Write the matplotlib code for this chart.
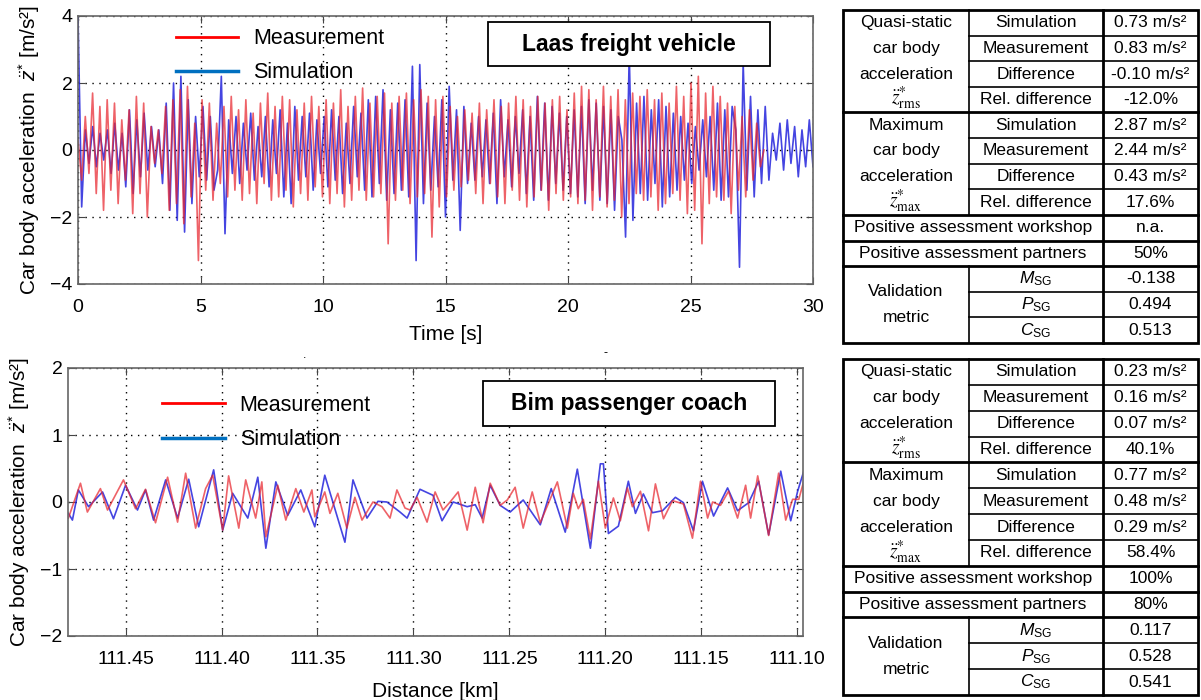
import numpy as np
import matplotlib
matplotlib.use("Agg")
import matplotlib.pyplot as plt
from matplotlib.lines import Line2D
from matplotlib.patches import Rectangle

plt.rcParams['font.family'] = ['Liberation Sans', 'DejaVu Sans']
plt.rcParams['mathtext.fontset'] = 'custom'
plt.rcParams['mathtext.rm'] = 'Liberation Sans'
plt.rcParams['mathtext.it'] = 'Liberation Sans:italic'
plt.rcParams['mathtext.bf'] = 'Liberation Sans:bold'

# ---- Laas freight vehicle: car body acceleration vs time [s] ----
laas_meas = [0.3, -0.9, 1.0, -0.7, 1.7, -1.3, 1.3, -1.8, 1.5, -1.2,
             1.4, -1.6, 0.9, -0.9, 1.2, -1.9, 1.6, -1.3, 1.4, -2.0,
             0.7, -0.4, 0.6, -0.7, 1.3, -1.8, 1.5, -1.6, 1.8, -2.2,
             1.9, -1.4, 0.8, -3.3, 1.5,
             -1.2, 1.4, -1.5, 0.8, -1.0, 1.3, -1.4, 1.6, -1.2, 1.2,
             -1.5, 1.5, -1.3, 1.1, -1.6, 1.4, -1.0, 1.7, -1.5, 1.3,
             -1.4, 1.6, -1.2, 1.5, -1.7, 1.2, -1.3, 1.4, -1.5, 1.6,
             -1.1, 1.3, -1.4,
             1.5, -1.6, 1.4, -1.3, 1.8, -1.7, 1.3, -1.5, 1.6, -1.2,
             1.85, -1.5, 1.4, -1.4, 1.6, -1.3, 1.7, -2.8, 1.4, -1.5,
             1.6, -1.2, 1.7, -1.6, 1.5, -1.4, 1.8, -1.3, 1.6, -2.6,
             1.5, -1.7, 1.6, -1.4,
             1.3, -1.2, 1.0, -1.1, 1.2, -0.9, 1.1, -1.3, 1.4, -1.6,
             1.2, -1.0, 1.5, -1.4, 1.3, -1.6, 1.4, -1.2, 1.6, -1.5,
             1.5, -1.7, 1.3, -1.4, 1.6, -1.2, 1.4, -1.8, 1.5, -1.3,
             1.6, -1.5, 1.2,
             -1.4, 1.7, -1.6, 1.9, -1.5, 1.8, -1.8, 1.5, -1.4, 1.9,
             -1.7, 1.6, -1.5, 1.8, -2.0, 1.5, -1.6, 1.7, -1.3, 1.6,
             -1.5, 1.8, -1.4, 1.5, -1.8, 1.7, -1.6, 1.4, -1.3, 1.9,
             -1.5, 1.6, -1.9,
             2.0, -1.8, 2.2, -2.8, 1.7, -1.6, 1.9, -1.4, 1.6, -1.5,
             1.4, -1.9, 1.3, -1.2, 1.0, -1.4, 1.2, -0.9, 0.8, -0.5, 0.0]

laas_sim = [4.0, -1.7, 0.6, -0.4, 0.7, -0.5, 0.5, -0.3, 0.6, -0.7,
            0.8, -0.6, 0.5, -1.1, 1.2, -1.3, 0.9, -0.8, 1.1, -0.6,
            0.7, -0.5, 0.6, -1.0, 1.4, -1.8, 2.0, -2.1, 2.2, -2.45,
            1.5, -1.6, 1.0, -0.8, 1.3, -0.9, 1.0, -1.2, -0.6, 2.2,
            -2.5, 0.9, -0.7, 1.0, -1.0, 0.8, -0.6, 1.1, -0.9, 0.7,
            -0.8, 1.0, -1.1, 0.9, -0.7, 1.2, -1.4, 0.8, -1.6, 1.3,
            -0.9, 1.0, -0.8, 1.1, -1.2, 0.9, -0.7, 1.0, -1.1, 1.2,
            -0.9, 1.0, -1.3, 0.8, -1.0, 1.3, -0.8, 1.1, -1.2, 1.5,
            -1.4, 1.6, -1.0, 1.8, -1.5, 1.2, -1.3, 1.4, -1.2, 1.5,
            -1.4, 2.5, -3.3, 2.55, -1.6, 1.4, -1.2, 1.0, -1.1, 1.5,
            -2.0, 1.9, -0.9, 1.2, -2.4, 1.3, -1.0, 0.8, -0.9, 1.0,
            -0.8, 0.9, -1.0, 1.1, -1.6, 1.5, -0.8, 0.9, -1.1, 1.0,
            -0.7, 1.2, -1.3, 1.0, -1.5, 1.6, -1.2, 1.4, -1.5, 1.3,
            -1.0, 1.1, -1.2, 1.0, -1.3, 1.2, -1.4, 1.3, -1.6, 1.5,
            -1.2, 1.4, -1.5, 1.3, -1.6, 1.2, -1.8, 1.0, 0.3, -2.6,
            2.87, -2.1, 1.4, -1.3, 1.6, -1.5, 1.2, -1.0, 1.5, -1.7,
            1.3, -1.4, 1.1, -1.2, 1.0, -0.9, 0.8, -1.0, 0.7, -0.6,
            0.9, -0.8, 1.0, -1.2, 1.4, -1.5, 1.2, -1.4, 1.3, 0.6,
            -3.5, 2.6, -1.2, 1.6, -1.4, 1.2, -1.0, 1.3, -0.9, 0.5,
            -0.3, 0.8, -0.6, 0.9, -0.4, 0.7, -0.8, 0.6, -0.5, 0.9,
            -0.5]
laas_t_meas = np.linspace(0, 28, len(laas_meas))
laas_t_sim = np.linspace(0, 30, len(laas_sim))

# ---- Bim passenger coach: car body acceleration vs distance [km] ----
bim_d_meas = [111.4798, 111.4735, 111.4699, 111.4631, 111.4594, 111.4511, 111.4448,
              111.4396, 111.4344, 111.4281, 111.4229, 111.4187, 111.4135, 111.4083,
              111.4046, 111.3994, 111.3963, 111.3910, 111.3874, 111.3822, 111.3790,
              111.3769, 111.3707, 111.3665, 111.3613, 111.3571, 111.3529, 111.3514,
              111.3462, 111.3435, 111.3394, 111.3347, 111.3305, 111.3268, 111.3211,
              111.3164, 111.3122, 111.3086, 111.3044, 111.3018, 111.2981, 111.2929,
              111.2887, 111.2846, 111.2809, 111.2767, 111.2720, 111.2678, 111.2637,
              111.2600, 111.2548, 111.2511, 111.2470, 111.2428, 111.2381, 111.2339,
              111.2250, 111.2198, 111.2167, 111.2141, 111.2115, 111.2078, 111.2036,
              111.2000, 111.1958, 111.1922, 111.1885, 111.1859, 111.1817, 111.1775,
              111.1739, 111.1697, 111.1650, 111.1593, 111.1546, 111.1504, 111.1467,
              111.1441, 111.1400, 111.1358, 111.1311, 111.1269, 111.1243, 111.1206,
              111.1149, 111.1097, 111.1060, 111.1024, 111.0992, 111.0966]
bim_meas = [-0.24, 0.28, -0.15, 0.20, -0.12, 0.33, -0.10,
            0.19, -0.31, 0.37, -0.30, 0.43, -0.39, 0.20,
            0.40, -0.42, 0.39, -0.39, 0.33, -0.24, 0.30,
            -0.52, 0.25, -0.27, 0.20, -0.15, 0.18, -0.22,
            0.15, -0.17, 0.13, -0.39, 0.07, -0.27, 0.00,
            -0.07, -0.24, 0.18, -0.09, -0.12, 0.07, -0.30,
            0.15, -0.12, 0.00, 0.15, -0.42, 0.22, -0.31,
            0.28, -0.05, 0.03, 0.22, -0.39, 0.15, -0.31,
            0.30, -0.39, 0.13, -0.10, 0.04, -0.55, 0.31,
            -0.39, 0.06, -0.28, 0.21, -0.07, 0.16, -0.43,
            0.27, -0.25, 0.02, -0.03, -0.54, 0.31, -0.24,
            0.00, -0.05, 0.16, -0.24, 0.25, -0.24, 0.39,
            -0.50, 0.43, -0.27, 0.04, 0.04, 0.31]

bim_d_sim = [111.4798, 111.4777, 111.4746, 111.4693, 111.4620, 111.4563, 111.4500,
             111.4438, 111.4396, 111.4354, 111.4291, 111.4229, 111.4171, 111.4119,
             111.4041, 111.3994, 111.3942, 111.3863, 111.3811, 111.3769, 111.3717,
             111.3655, 111.3587, 111.3514, 111.3462, 111.3357, 111.3315, 111.3242,
             111.3185, 111.3138, 111.3070, 111.3033, 111.2966, 111.2898, 111.2851,
             111.2793, 111.2720, 111.2678, 111.2642, 111.2600, 111.2548, 111.2496,
             111.2428, 111.2339, 111.2282, 111.2209, 111.2146, 111.2078, 111.2026,
             111.2010, 111.1984, 111.1932, 111.1880, 111.1843, 111.1802, 111.1755,
             111.1702, 111.1635, 111.1593, 111.1541, 111.1494, 111.1436, 111.1363,
             111.1311, 111.1253, 111.1201, 111.1149, 111.1086, 111.1034, 111.0998,
             111.0966]
bim_sim = [-0.17, -0.27, 0.18, -0.07, 0.15, -0.25, 0.25,
           -0.12, 0.18, -0.27, 0.33, -0.24, 0.34, -0.37,
           0.48, -0.42, 0.13, -0.24, 0.37, -0.69, 0.30,
           -0.20, 0.18, -0.37, 0.40, -0.60, 0.33, -0.24,
           0.01, 0.00, -0.15, -0.24, 0.19, 0.10, -0.28,
           0.00, -0.07, -0.04, -0.24, 0.25, -0.05, -0.15,
           0.03, -0.34, 0.20, -0.45, 0.49, -0.69, 0.57,
           0.57, -0.47, -0.36, 0.31, -0.17, 0.12, -0.16,
           -0.13, 0.07, -0.01, -0.43, 0.31, -0.21, 0.21,
           -0.13, -0.01, 0.31, -0.49, 0.46, -0.28, 0.16,
           0.46]

# ---- tables ----
row_labels = ['Simulation', 'Measurement', 'Difference', 'Rel. difference'] * 2
metric_labels = [r'$M_{\mathrm{SG}}$', r'$P_{\mathrm{SG}}$', r'$C_{\mathrm{SG}}$']
laas_vals = ['0.73 m/s²', '0.83 m/s²', '-0.10 m/s²', '-12.0%',
             '2.87 m/s²', '2.44 m/s²', '0.43 m/s²', '17.6%',
             'n.a.', '50%', '-0.138', '0.494', '0.513']
bim_vals = ['0.23 m/s²', '0.16 m/s²', '0.07 m/s²', '40.1%',
            '0.77 m/s²', '0.48 m/s²', '0.29 m/s²', '58.4%',
            '100%', '80%', '0.117', '0.528', '0.541']

RED = '#e8262e'
BLUE = '#2424dc'

fig = plt.figure(figsize=(12.01, 7.0), dpi=100)


def style_axes(ax):
    ax.grid(True, color='black', linestyle=(0, (1, 4)), linewidth=1.0)
    ax.tick_params(direction='in', top=True, right=True, length=5,
                   labelsize=14, color='#444444')
    for s in ax.spines.values():
        s.set_color('#666666')
        s.set_linewidth(1.2)


def add_legend(ax, anchor):
    handles = [Line2D([], [], color='#ff0000', lw=2),
               Line2D([], [], color='#0070c0', lw=2.5)]
    ax.legend(handles, ['Measurement', 'Simulation'], loc='upper left',
              bbox_to_anchor=anchor, frameon=False, fontsize=15.5,
              handlelength=2.9, handletextpad=0.7, labelspacing=0.62,
              borderpad=0, borderaxespad=0)


# top plot
ax1 = fig.add_axes([78 / 1201, 1 - 284 / 700, 735 / 1201, 268 / 700])
ax1.plot(laas_t_sim, laas_sim, color=BLUE, lw=1.2, alpha=0.85)
ax1.plot(laas_t_meas, laas_meas, color=RED, lw=1.2, alpha=0.72)
ax1.set_xlim(0, 30)
ax1.set_ylim(-4, 4)
ax1.set_xticks([0, 5, 10, 15, 20, 25, 30])
ax1.set_yticks([-4, -2, 0, 2, 4])
style_axes(ax1)
ax1.tick_params(axis='x', pad=11)
ax1.tick_params(axis='y', pad=4)
ax1.set_xlabel('Time [s]', fontsize=15, labelpad=6)
ax1.set_ylabel(r'Car body acceleration  $\ddot{z}^{*}$ [m/s²]', fontsize=15, labelpad=6)
add_legend(ax1, (0.133, 0.955))

# bottom plot
ax2 = fig.add_axes([68 / 1201, 1 - 636 / 700, 735 / 1201, 268 / 700])
ax2.plot(bim_d_sim, bim_sim, color=BLUE, lw=1.2, alpha=0.85,
         solid_joinstyle='round')
ax2.plot(bim_d_meas, bim_meas, color=RED, lw=1.2, alpha=0.72,
         solid_joinstyle='round')
ax2.set_xlim(111.48, 111.097)
ax2.set_ylim(-2, 2)
ax2.set_xticks([111.45, 111.40, 111.35, 111.30, 111.25, 111.20, 111.15, 111.10])
ax2.set_xticklabels(['%.2f' % v for v in ax2.get_xticks()])
ax2.set_yticks([-2, -1, 0, 1, 2])
style_axes(ax2)
ax2.tick_params(axis='x', pad=11)
ax2.tick_params(axis='y', pad=4)
ax2.set_xlabel('Distance [km]', fontsize=15, labelpad=10)
ax2.set_ylabel(r'Car body acceleration  $\ddot{z}^{*}$ [m/s²]', fontsize=15, labelpad=6)
add_legend(ax2, (0.128, 0.9))

# overlay in pixel units for tables and title boxes
ov = fig.add_axes([0, 0, 1, 1])
ov.set_xlim(0, 1201)
ov.set_ylim(700, 0)
ov.axis('off')

for (x0, y0, w, h, label) in [(488, 22, 282, 44, 'Laas freight vehicle'),
                              (483, 381, 292, 45, 'Bim passenger coach')]:
    ov.add_patch(Rectangle((x0, y0), w, h, fill=True, facecolor='white',
                           edgecolor='black', lw=1.3))
    ov.text(x0 + w / 2, y0 + h / 2, label, ha='center', va='center',
            fontsize=16.5, fontweight='bold')

fig.text(305 / 1201, 1 - 355 / 700, '.', fontsize=9, ha='center', va='center')
fig.text(605 / 1201, 1 - 353 / 700, '-', fontsize=9, ha='center', va='center')


def draw_table(top, bottom, vals):
    xs = [843, 969, 1103, 1198]
    h = (bottom - top) / 13.0
    yc = lambda i: top + (i + 0.5) * h
    ye = lambda i: top + i * h
    fs = 12.5
    c1 = (xs[0] + xs[1]) / 2
    c2 = (xs[1] + xs[2]) / 2
    c3 = (xs[2] + xs[3]) / 2
    for i, lab in enumerate(row_labels):
        ov.text(c2, yc(i), lab, ha='center', va='center', fontsize=fs)
    for i, v in enumerate(vals):
        ov.text(c3, yc(i), v, ha='center', va='center', fontsize=fs)
    for k, (word, sub) in enumerate([('Quasi-static', 'rms'), ('Maximum', 'max')]):
        base = 4 * k
        ov.text(c1, yc(base), word, ha='center', va='center', fontsize=fs)
        ov.text(c1, yc(base + 1), 'car body', ha='center', va='center', fontsize=fs)
        ov.text(c1, yc(base + 2), 'acceleration', ha='center', va='center', fontsize=fs)
        ov.text(c1, yc(base + 3) - 1, r'$\ddot{z}^{*}_{\mathrm{%s}}$' % sub, ha='center',
                va='center', fontsize=14, math_fontfamily='stix')
    ov.text((xs[0] + xs[2]) / 2, yc(8), 'Positive assessment workshop',
            ha='center', va='center', fontsize=fs)
    ov.text((xs[0] + xs[2]) / 2, yc(9), 'Positive assessment partners',
            ha='center', va='center', fontsize=fs)
    ov.text(c1, (yc(10) + yc(11)) / 2, 'Validation', ha='center', va='center', fontsize=fs)
    ov.text(c1, (yc(11) + yc(12)) / 2, 'metric', ha='center', va='center', fontsize=fs)
    for i, m in enumerate(metric_labels):
        ov.text(c2, yc(10 + i), m, ha='center', va='center', fontsize=fs)
    # lines
    ov.add_patch(Rectangle((xs[0], top), xs[3] - xs[0], bottom - top, fill=False,
                           edgecolor='black', lw=2.0))
    ov.plot([xs[2], xs[2]], [top, bottom], color='black', lw=2.0)
    ov.plot([xs[1], xs[1]], [top, ye(8)], color='black', lw=1.2)
    ov.plot([xs[1], xs[1]], [ye(10), bottom], color='black', lw=1.2)
    for i in range(1, 13):
        if i in (4, 8, 9, 10):
            ov.plot([xs[0], xs[3]], [ye(i), ye(i)], color='black', lw=2.0)
        else:
            ov.plot([xs[1], xs[3]], [ye(i), ye(i)], color='black', lw=1.2)


draw_table(10, 343, laas_vals)
draw_table(359, 695, bim_vals)

fig.savefig('out.png', dpi=100)
